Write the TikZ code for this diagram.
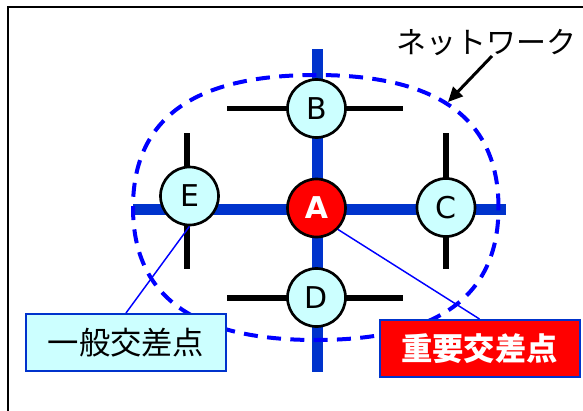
\documentclass[tikz,border=0pt]{standalone}
\usepackage{fontspec}
\newfontfamily\jpfont{Noto Sans CJK JP}
\newfontfamily\letterfont{DejaVu Sans}
\usetikzlibrary{arrows.meta}
\definecolor{roadblue}{RGB}{0,51,204}
\definecolor{dashblue}{RGB}{0,0,255}
\definecolor{lightcyan}{RGB}{204,255,255}
\definecolor{hotred}{RGB}{255,0,0}
\begin{document}
\begin{tikzpicture}[x=0.75pt,y=-0.75pt,
  road/.style={line width=8.25pt, draw=roadblue},
  street/.style={line width=4.1pt, draw=black},
  junction/.style={circle, draw=black, line width=2pt, fill=lightcyan, minimum size=43.5pt, inner sep=0pt, font=\letterfont\fontsize{22.5}{27}\selectfont},
  keyjunction/.style={junction, fill=hotred, text=white, font=\letterfont\bfseries\fontsize{22.5}{27}\selectfont},
  callout/.style={draw=dashblue, line width=1.1pt},
  labelbox/.style={rectangle, draw=roadblue, line width=1.5pt, minimum width=150pt, minimum height=42.75pt, inner sep=0pt, font=\jpfont\fontsize{23.5}{28}\selectfont},
  netline/.style={draw=dashblue, line width=3pt, dash pattern=on 10.5pt off 7pt},
]
\useasboundingbox (0,0) rectangle (583,411);
% frame
\draw[line width=1.5pt] (8,411) -- (8,7) -- (583,7);
% coordinates of the street ends
\coordinate (bl) at (227,108.5); \coordinate (br) at (403,108.5);
\coordinate (dl) at (227,298);   \coordinate (dr) at (403,298);
\coordinate (ct) at (446,133);   \coordinate (cb) at (446,269);
\coordinate (et) at (187,133);   \coordinate (eb) at (187,269);
\coordinate (rt) at (317,49);    \coordinate (rb) at (317,372);
\coordinate (rl) at (133,209.5); \coordinate (rr) at (506,209.5);
% black streets
\draw[street] (bl) -- (br);
\draw[street] (dl) -- (dr);
\draw[street] (ct) -- (cb);
\draw[street] (et) -- (eb);
% blue main roads
\draw[road] (rt) -- (rb);
\draw[road] (rl) -- (rr);
% dashed network outline
\draw[netline] (498.5,207.5) .. controls (498.5,118.7) and (438.15,75) .. (315.75,75)
  .. controls (193.35,75) and (133,118.7) .. (133,207.5)
  .. controls (133,296.3) and (193.35,340) .. (315.75,340)
  .. controls (438.15,340) and (498.5,296.3) .. (498.5,207.5) -- cycle;
% junctions
\node[keyjunction] (A) at (316.5,208) {A};
\node[junction] (B) at (316.5,108.5) {B};
\node[junction] (C) at (446,207.5) {C};
\node[junction] (D) at (316.5,297.5) {D};
\node[junction] (E) at (189.5,196) {E};
% label boxes
\node[labelbox, fill=lightcyan] (gen) at (126,342.5) {一般交差点};
\node[labelbox, fill=hotred, text=white, font=\jpfont\bfseries\fontsize{23.5}{28}\selectfont] (imp) at (479.5,348.5) {重要交差点};
% callout lines
\draw[callout] (E.south) -- (gen.north);
\draw[callout] (A.-45) -- (imp.north);
% network label
\node[font=\jpfont\fontsize{22.5}{27}\selectfont, inner sep=0pt] (net) at (486.5,43) {ネットワーク};
\coordinate (netstart) at (492,56);
\coordinate (nettip) at (448,102);
\draw[line width=2.25pt, -{Triangle[length=11pt,width=10pt]}] (netstart) -- (nettip);
\end{tikzpicture}
\end{document}
